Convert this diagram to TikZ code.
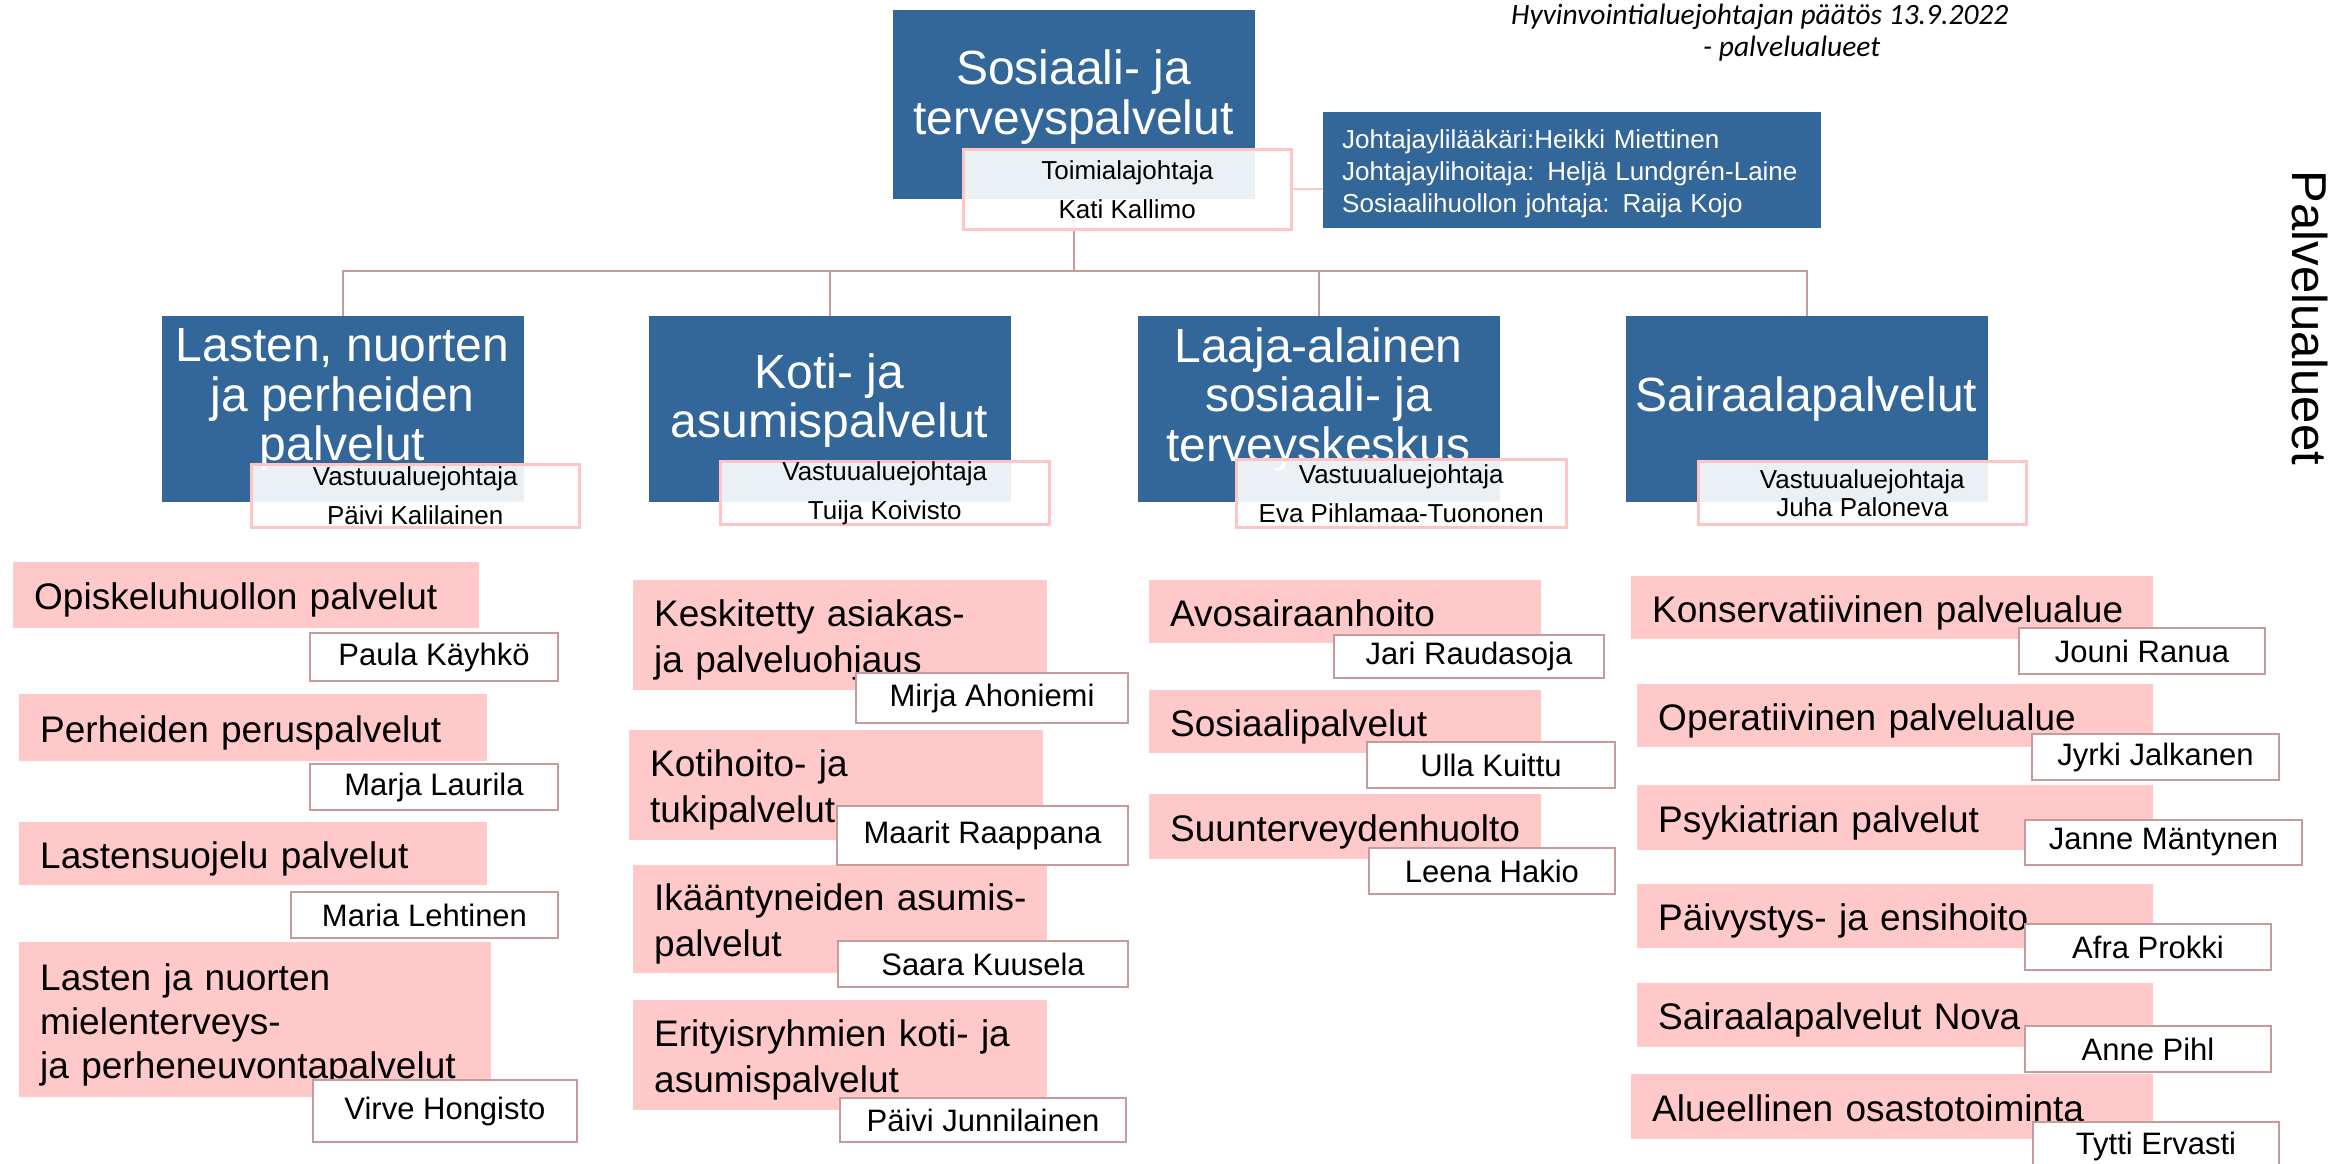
\documentclass[tikz,border=0pt]{standalone}
\usepackage{fontspec}
\setmainfont{Liberation Sans}
\newfontfamily\titlefont{Carlito}
\setlength{\parindent}{0pt}
\definecolor{boxblue}{RGB}{51,102,153}
\definecolor{barpink}{RGB}{255,201,201}
\definecolor{lightpink}{RGB}{255,196,196}
\definecolor{rose}{RGB}{198,155,155}
\begin{document}
\begin{tikzpicture}[x=1pt,y=-1pt,
  bluebox/.style={fill=boxblue, draw=boxblue, line width=0.8pt, inner sep=0pt, anchor=north west},
  bigtext/.style={text=white, font=\fontsize{48}{49.5}\selectfont, align=center, inner sep=0pt},
  vbox/.style={draw=lightpink, line width=2.5pt, fill=white, fill opacity=0.9, text opacity=1, text=black,
    font=\fontsize{26}{39}\selectfont, align=center, inner sep=0pt, anchor=north west},
  infobox/.style={fill=boxblue, text=white, inner xsep=19pt, inner ysep=0pt, align=left,
    font=\fontsize{26}{32}\selectfont, anchor=north west, text height=19pt, text depth=63pt},
  bar/.style={fill=barpink, inner xsep=21pt, inner ysep=0pt, anchor=north west,
    font=\fontsize{37}{46}\selectfont, align=left, text height=29pt, text depth=0pt},
  twolines/.style={text depth=46pt},
  threelines/.style={font=\fontsize{37}{44}\selectfont, text depth=88pt},
  namebox/.style={draw=rose, line width=2pt, fill=white, inner sep=0pt, anchor=north west,
    font=\fontsize{31}{36}\selectfont},
  conn/.style={draw=rose, line width=2.7pt},
  infoconn/.style={draw=lightpink, line width=2pt},
  titletext/.style={font=\titlefont\itshape\fontsize{29.5}{35}\selectfont, inner sep=0pt},
  sidetext/.style={font=\fontsize{49}{50}\selectfont, inner sep=0pt}
]
\useasboundingbox (0,0) rectangle (2334,1164);
\fill[white] (0,0) rectangle (2334,1164);

% title and side label
\node[titletext, anchor=base west] (title1) at (1511,25) {Hyvinvointialuejohtajan päätös 13.9.2022};
\node[titletext, anchor=base west] (title2) at (1703,57) {- palvelualueet};
\node[sidetext, rotate=-90] (side) at (2310,318) {Palvelualueet};

% blue boxes
\node[bluebox, minimum width=361pt, minimum height=188pt] (top) at (893,10) {};
\node[bluebox, minimum width=361pt, minimum height=185pt] (lasten) at (162,316) {};
\node[bluebox, minimum width=361pt, minimum height=185pt] (koti) at (649,316) {};
\node[bluebox, minimum width=361pt, minimum height=185pt] (laaja) at (1138,316) {};
\node[bluebox, minimum width=361pt, minimum height=185pt] (sair) at (1626,316) {};

\node[bigtext, font=\fontsize{48}{50}\selectfont] (topT) at (1073.5,97) {Sosiaali- ja\\terveyspalvelut};
\node[bigtext] (lastenT) at (342.5,399.5) {Lasten, nuorten\\ja perheiden\\palvelut};
\node[bigtext] (kotiT) at (829.5,400.5) {Koti- ja\\asumispalvelut};
\node[bigtext] (laajaT) at (1318.5,399.5) {Laaja-alainen\\sosiaali- ja\\terveyskeskus};
\node[bigtext] (sairT) at (1806.5,399.5) {Sairaalapalvelut};

% tree connectors
\coordinate (bus) at (0,271);
\foreach \c in {lasten,koti,laaja,sair}{
  \draw[conn] (top.south) -- (top.south |- bus) -| (\c.north);
}

% leader boxes
\node[vbox, minimum width=328pt, minimum height=80pt] (toim) at (962,148) {Toimialajohtaja\\Kati Kallimo};
\node[vbox, minimum width=328pt, minimum height=63pt] (lastenV) at (250,463) {Vastuualuejohtaja\\Päivi Kalilainen};
\node[vbox, minimum width=329pt, minimum height=63pt] (kotiV) at (719,460) {Vastuualuejohtaja\\Tuija Koivisto};
\node[vbox, minimum width=330pt, minimum height=68pt] (laajaV) at (1235,458) {Vastuualuejohtaja\\Eva Pihlamaa-Tuononen};
\node[vbox, minimum width=328pt, minimum height=63pt, font=\fontsize{26}{28}\selectfont] (sairV) at (1697,460) {Vastuualuejohtaja\\Juha Paloneva};

% info box
\node[infobox, minimum width=498pt, minimum height=116pt, text width=460pt] (info) at (1323,112)
  {\mbox{Johtajaylilääkäri:Heikki Miettinen}\\\mbox{Johtajaylihoitaja: Heljä Lundgrén-Laine}\\\mbox{Sosiaalihuollon johtaja: Raija Kojo}};
\draw[infoconn] (toim.east) -- (toim.east -| info.west);

% column 1
\node[bar, minimum height=66pt, text width=424pt] (opis) at (13,562) {\mbox{Opiskeluhuollon palvelut}};
\node[bar, minimum height=67pt, text width=426pt] (perh) at (19,694) {\mbox{Perheiden peruspalvelut}};
\node[bar, minimum height=63pt, text width=426pt] (last) at (19,822) {\mbox{Lastensuojelu palvelut}};
\node[bar, threelines, minimum height=155pt, text width=430pt] (mielen) at (19,942)
  {\mbox{Lasten ja nuorten}\\\mbox{mielenterveys-}\\\mbox{ja perheneuvontapalvelut}};
\node[namebox, minimum width=248pt, minimum height=48pt] (paula) at (309,632) {Paula Käyhkö};
\node[namebox, minimum width=248pt, minimum height=46pt] (marja) at (309,763) {Marja Laurila};
\node[namebox, minimum width=267pt, minimum height=46pt] (maria) at (290,891) {Maria Lehtinen};
\node[namebox, minimum width=264pt, minimum height=62pt] (virve) at (312,1079) {Virve Hongisto};

% column 2
\node[bar, twolines, minimum height=110pt, text width=372pt] (kesk) at (633,580) {\mbox{Keskitetty asiakas-}\\\mbox{ja palveluohjaus}};
\node[bar, twolines, minimum height=110pt, text width=372pt] (kotih) at (629,730) {\mbox{Kotihoito- ja}\\\mbox{tukipalvelut}};
\node[bar, twolines, minimum height=108pt, text width=372pt] (ika) at (633,865) {\mbox{Ikääntyneiden asumis-}\\\mbox{palvelut}};
\node[bar, twolines, minimum height=110pt, text width=372pt] (erit) at (633,1000) {\mbox{Erityisryhmien koti- ja}\\\mbox{asumispalvelut}};
\node[namebox, minimum width=272pt, minimum height=50pt] (mirja) at (855,672) {Mirja Ahoniemi};
\node[namebox, minimum width=291pt, minimum height=59pt] (maarit) at (836,805) {Maarit Raappana};
\node[namebox, minimum width=290pt, minimum height=46pt] (saara) at (837,940) {Saara Kuusela};
\node[namebox, minimum width=286pt, minimum height=44pt] (paivi) at (839,1097) {Päivi Junnilainen};

% column 3
\node[bar, minimum height=63pt, text width=350pt] (avo) at (1149,580) {\mbox{Avosairaanhoito}};
\node[bar, minimum height=63pt, text width=350pt] (sosp) at (1149,690) {\mbox{Sosiaalipalvelut}};
\node[bar, minimum height=65pt, text width=350pt] (suun) at (1149,794) {\mbox{Suunterveydenhuolto}};
\node[namebox, minimum width=270pt, minimum height=43pt] (jari) at (1333,634) {Jari Raudasoja};
\node[namebox, minimum width=248pt, minimum height=46pt] (ulla) at (1366,741) {Ulla Kuittu};
\node[namebox, minimum width=246pt, minimum height=46pt] (leena) at (1368,847) {Leena Hakio};

% column 4
\node[bar, minimum height=63pt, text width=480pt] (kons) at (1631,576) {\mbox{Konservatiivinen palvelualue}};
\node[bar, minimum height=63pt, text width=474pt] (oper) at (1637,684) {\mbox{Operatiivinen palvelualue}};
\node[bar, minimum height=65pt, text width=474pt] (psyk) at (1637,785) {\mbox{Psykiatrian palvelut}};
\node[bar, minimum height=64pt, text width=474pt] (paiv) at (1637,884) {\mbox{Päivystys- ja ensihoito}};
\node[bar, minimum height=64pt, text width=474pt] (nova) at (1637,983) {\mbox{Sairaalapalvelut Nova}};
\node[bar, minimum height=65pt, text width=480pt] (alue) at (1631,1074) {\mbox{Alueellinen osastotoiminta}};
\node[namebox, minimum width=246pt, minimum height=46pt] (jouni) at (2018,627) {Jouni Ranua};
\node[namebox, minimum width=247pt, minimum height=46pt] (jyrki) at (2031,733) {Jyrki Jalkanen};
\node[namebox, minimum width=277pt, minimum height=45pt] (janne) at (2024,819) {Janne Mäntynen};
\node[namebox, minimum width=246pt, minimum height=46pt] (afra) at (2024,923) {Afra Prokki};
\node[namebox, minimum width=246pt, minimum height=46pt] (anne) at (2024,1025) {Anne Pihl};
\node[namebox, minimum width=246pt, minimum height=48pt] (tytti) at (2032,1121) {Tytti Ervasti};
\end{tikzpicture}
\end{document}
